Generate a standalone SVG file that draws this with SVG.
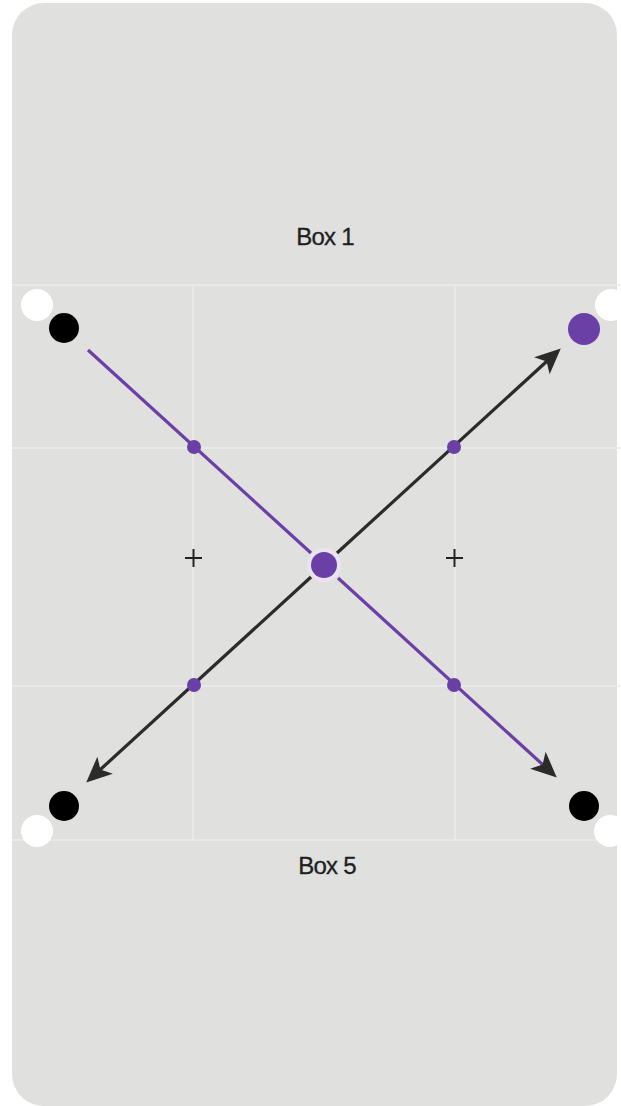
<svg xmlns="http://www.w3.org/2000/svg" width="621" height="1106" viewBox="0 0 621 1106">
<style>
.grid{stroke:#ececec;stroke-width:1.5;fill:none}
.lbl{font-family:"Liberation Sans",Arial,sans-serif;font-size:24px;fill:#1e1e1e;text-anchor:middle;letter-spacing:-0.8px;stroke:#1e1e1e;stroke-width:0.3}
.plus{stroke:#222;stroke-width:2}
.purple{stroke:#6a3fa6;stroke-width:3.2;fill:none}
.dark{stroke:#2b2b2b;stroke-width:3.2;fill:none}
.pdot{fill:#6a3fa6}
</style>
<defs>
<marker id="ah2" viewBox="0 0 10 10" refX="8" refY="5" markerWidth="8" markerHeight="8" orient="auto">
<path d="M0,0.5 L10,5 L0,9.5 L2.5,5 Z" fill="#2b2b2b"/>
</marker>
</defs>
<rect width="621" height="1106" fill="#ffffff"/>
<rect x="12" y="3" width="605" height="1103" rx="32" fill="#e0e0df"/>
<g id="grid">
<line class="grid" x1="12" y1="285" x2="621" y2="285"/>
<line class="grid" x1="12" y1="448" x2="621" y2="448"/>
<line class="grid" x1="12" y1="686" x2="621" y2="686"/>
<line class="grid" x1="12" y1="840" x2="621" y2="840"/>
<line class="grid" x1="193" y1="285" x2="193" y2="840"/>
<line class="grid" x1="455" y1="285" x2="455" y2="840"/>
</g>
<g id="label-box1"><text class="lbl" x="325" y="245">Box 1</text></g>
<g id="label-box5"><text class="lbl" x="327" y="874">Box 5</text></g>
<g id="connectors">
<line class="purple" x1="88" y1="350" x2="311" y2="553"/>
<line class="purple" x1="338" y1="578" x2="553" y2="774" marker-end="url(#ah2)"/>
<line class="dark" x1="337" y1="553" x2="557" y2="352" marker-end="url(#ah2)"/>
<line class="dark" x1="311" y1="577" x2="90" y2="779" marker-end="url(#ah2)"/>
</g>
<g id="corner-tl"><circle cx="37" cy="305" r="16" fill="#ffffff"/><circle cx="64" cy="328" r="15" fill="#000"/></g>
<g id="corner-tr"><circle cx="611" cy="305" r="16" fill="#ffffff"/><circle cx="584" cy="329" r="16" class="pdot"/></g>
<g id="corner-bl"><circle cx="37" cy="831" r="16" fill="#ffffff"/><circle cx="64" cy="806" r="15" fill="#000"/></g>
<g id="corner-br"><circle cx="610" cy="831" r="16" fill="#ffffff"/><circle cx="584" cy="806" r="15" fill="#000"/></g>
<g id="center"><circle cx="324" cy="565" r="17" fill="#e9e4f0"/><circle cx="324" cy="565" r="13" class="pdot"/></g>
<g id="dot-1"><circle cx="194" cy="447" r="7" class="pdot"/></g>
<g id="dot-2"><circle cx="454" cy="447" r="7" class="pdot"/></g>
<g id="dot-3"><circle cx="194" cy="685" r="7" class="pdot"/></g>
<g id="dot-4"><circle cx="454" cy="685" r="7" class="pdot"/></g>
<g id="plus-left"><line class="plus" x1="185" y1="558" x2="202" y2="558"/><line class="plus" x1="193.5" y1="549" x2="193.5" y2="567"/></g>
<g id="plus-right"><line class="plus" x1="446" y1="558" x2="463" y2="558"/><line class="plus" x1="454.5" y1="549" x2="454.5" y2="567"/></g>
</svg>
